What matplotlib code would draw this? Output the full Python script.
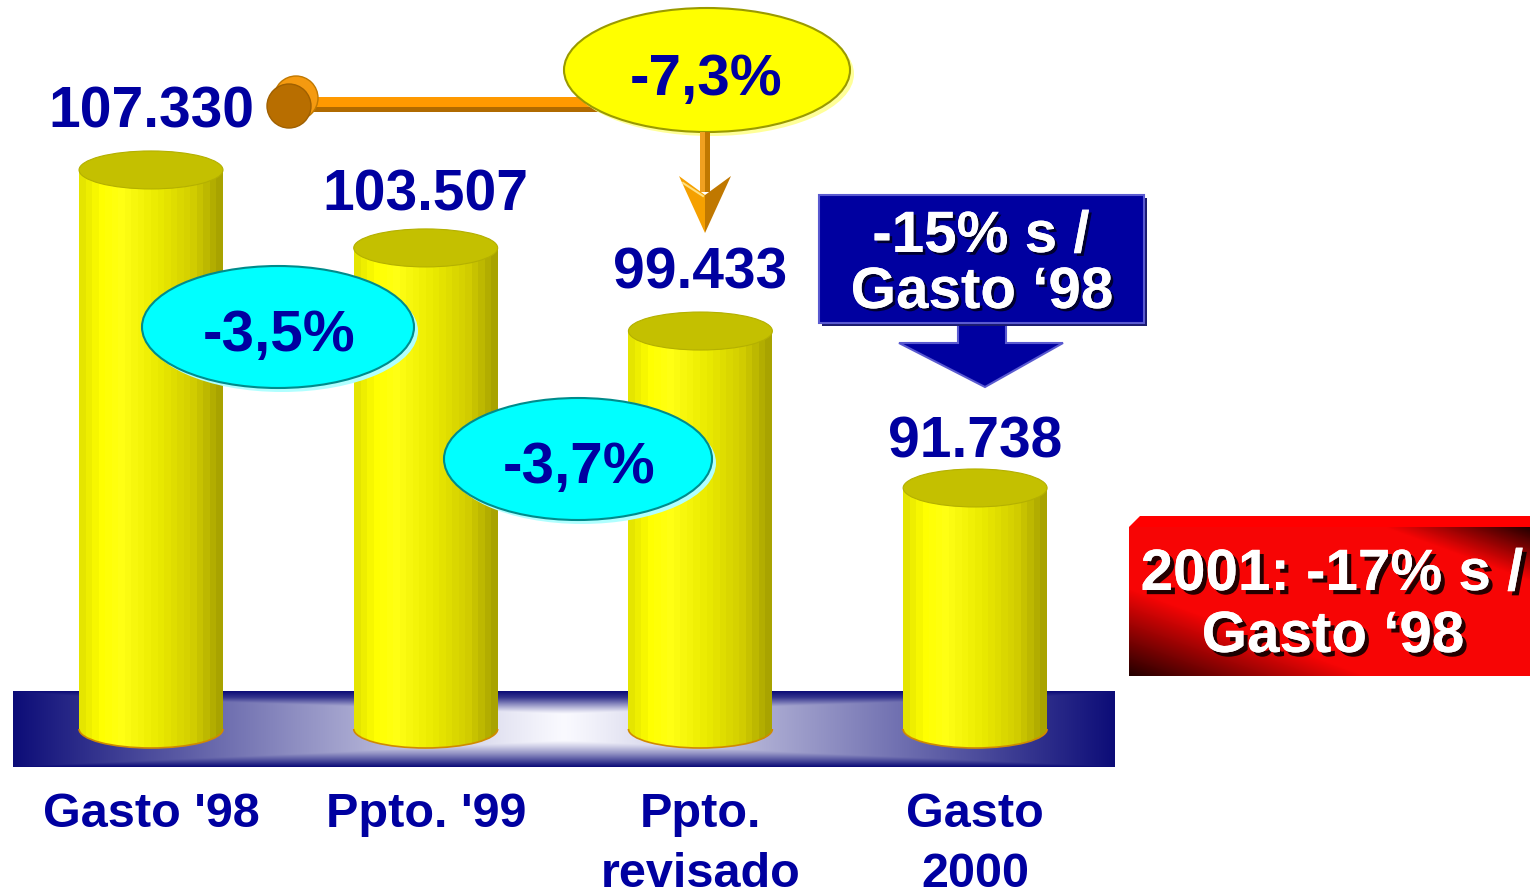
import matplotlib
matplotlib.use('Agg')
import matplotlib.pyplot as plt
import matplotlib.patheffects as pe
from matplotlib.patches import Ellipse, Rectangle, Polygon, Circle, Arc
from matplotlib.transforms import blended_transform_factory
import numpy as np

# data
categories = [["Gasto '98"], ["Ppto. '99"], ["Ppto.", "revisado"], ["Gasto", "2000"]]
values = [107330, 103507, 99433, 91738]
value_labels = ['107.330', '103.507', '99.433', '91.738']
step_labels = ['-3,5%', '-3,7%']
total_label = '-7,3%'
box_lines = ['-15% s /', 'Gasto \u201898']
red_lines = ['2001: -17% s /', 'Gasto \u201898']

plt.rcParams['font.family'] = ['Liberation Sans', 'DejaVu Sans']
NAVY = '#0000a0'
BASE = 79920          # floor of the value axis
W = 0.524             # bar width (category units)
EH = 1863             # ellipse height of cylinder caps (value units)

fig = plt.figure(figsize=(15.3, 8.92), dpi=100)
ax = fig.add_axes([0, 0, 1, 1], zorder=1)
ax.axis('off')
x = np.arange(len(values))


def body_gradient(n=22):
    t = (np.arange(n) + 0.5) / n
    pos = [0, .15, .3, .55, .8, 1]
    cols = np.array([[.88, .88, 0], [1, 1, 0], [1, 1, .08],
                     [.92, .92, 0], [.82, .80, 0], [.64, .62, 0]])
    img = np.stack([np.interp(t, pos, cols[:, k]) for k in range(3)], axis=-1)
    return img[None, :, :]


def platform_gradient(nx=500, ny=80):
    u = np.abs(np.linspace(-1, 1, nx))[None, :]
    w = np.linspace(0, 1, ny)[:, None]
    sy = np.interp(w, [0, 0.08, 0.22, 0.3, 0.65, 0.82, 1], [1, 0.85, 0.3, 0, 0, 0.45, 1])
    s = np.maximum(u, sy) ** 1.1
    light = np.array([0.98, 0.98, 1.0])
    dark = np.array([0.05, 0.05, 0.47])
    return light * (1 - s[..., None]) + dark * s[..., None]


# platform under the cylinders
ax.imshow(platform_gradient(), extent=(x[0] - 0.502, x[-1] + 0.509, BASE - EH, BASE + EH),
          aspect='auto', zorder=1, interpolation='bilinear')

body = body_gradient()
bars = ax.bar(x, np.array(values) - BASE, bottom=BASE, width=W,
              color='none', edgecolor='none', zorder=2)
for xi, b in zip(x, bars):
    top = b.get_y() + b.get_height()
    im = ax.imshow(body, extent=(xi - W / 2, xi + W / 2, BASE, top),
                   aspect='auto', zorder=2, interpolation='nearest')
    im.set_clip_path(b)
    bot = Ellipse((xi, BASE), W, EH, facecolor='none', edgecolor='none', zorder=2)
    ax.add_patch(bot)
    im2 = ax.imshow(body, extent=(xi - W / 2, xi + W / 2, BASE - EH / 2, BASE),
                    aspect='auto', zorder=2, interpolation='nearest')
    im2.set_clip_path(bot)
    ax.add_patch(Arc((xi, BASE), W, EH, theta1=180, theta2=360,
                     color='#d08a00', lw=1.2, zorder=3))
    ax.add_patch(Ellipse((xi, top), W, EH, facecolor='#c4c000',
                         edgecolor='#b4b000', lw=0.8, zorder=3))

# value labels
label_dy = [42, 37, 43, 30]
for xi, v, lab, dy in zip(x, values, value_labels, label_dy):
    ax.annotate(lab, (xi, v), xytext=(0, dy * 0.72), textcoords='offset points',
                ha='center', va='baseline', fontsize=41, fontweight='bold',
                color=NAVY, zorder=5)

# category labels
tr = blended_transform_factory(ax.transData, ax.transAxes)
for xi, lines in zip(x, categories):
    for k, line in enumerate(lines):
        ax.text(xi, 0.0729 - k * 0.0675, line, transform=tr, ha='center', va='baseline',
                fontsize=35, fontweight='bold', color=NAVY, clip_on=False)

ax.set_xlim(-0.5497, 5.020)
ax.set_ylim(71928, 115663)

# overlay in pixel coordinates for the annotations
ov = fig.add_axes([0, 0, 1, 1], zorder=3)
ov.set_xlim(0, 1530)
ov.set_ylim(892, 0)
ov.axis('off')

big = dict(fontsize=42, fontweight='bold', ha='center', va='baseline')

# orange connector with ball
ov.add_patch(Rectangle((300, 97), 310, 10, fc='#ff9900', ec='none'))
ov.add_patch(Rectangle((300, 107), 310, 5, fc='#b06a00', ec='none'))
ov.add_patch(Circle((296, 98), 22, fc='#f59a10', ec='#c07800', lw=1))
ov.add_patch(Circle((289, 106), 22, fc='#b86e00', ec='#a06000', lw=1))

# yellow ellipse -7,3%
ov.add_patch(Ellipse((711, 74), 286, 124, fc='#ffff99', ec='none'))
ov.add_patch(Ellipse((707, 70), 286, 124, fc='#ffff00', ec='#9a9a00', lw=1.5))
ov.text(706, 95, total_label, color=NAVY, **big)

# orange arrow down
ov.add_patch(Rectangle((700, 132), 5, 60, fc='#f0a020', ec='none'))
ov.add_patch(Rectangle((705, 132), 5, 60, fc='#c07800', ec='none'))
ov.add_patch(Polygon([(679, 176), (705, 195), (705, 233)], closed=True, fc='#f5a000', ec='none'))
ov.add_patch(Polygon([(705, 195), (731, 176), (705, 233)], closed=True, fc='#c07800', ec='none'))
ov.plot([683, 703], [183, 196], color='#ffe080', lw=1.5)

# cyan ellipses
for (cx, cy, ew), lab in zip([(278, 327, 272), (578, 459, 268)], step_labels):
    ov.add_patch(Ellipse((cx + 4, cy + 4), ew, 122, fc='#b0ffff', ec='none'))
    ov.add_patch(Ellipse((cx, cy), ew, 122, fc='#00ffff', ec='#008b8b', lw=1.5))
    ov.text(cx + 1, cy + 24, lab, color=NAVY, **big)

# blue box with arrow
ov.add_patch(Polygon([(958, 320), (1006, 320), (1006, 343), (1063, 343), (985, 387),
                      (899, 343), (958, 343)], closed=True, fc='#0000a0', ec='#5a5ad0', lw=1.5))
ov.add_patch(Rectangle((822, 198), 325, 128, fc='#1a1a70', ec='none'))
ov.add_patch(Rectangle((819, 195), 325, 128, fc='#0000a0', ec='#5a5ad0', lw=1.5))
shadow = [pe.withSimplePatchShadow(offset=(2, -2), shadow_rgbFace='black', alpha=0.7), pe.Normal()]
ov.text(981, 252, box_lines[0], color='white', path_effects=shadow, **big)
ov.text(982, 308, box_lines[1], color='white', path_effects=shadow, **big)

# red box
nx, ny = 200, 80
u = np.linspace(0, 1, nx)[None, :]
w = np.linspace(0, 1, ny)[:, None]
d1 = np.clip(1 - (u + (1 - w)) * 1.7, 0, 1)
d2 = np.clip(1 - ((1 - u) + w) * 2.8, 0, 1)
dark = np.maximum(d1, d2)
red = np.stack([0.97 * (1 - 0.85 * dark), 0.02 * (1 - dark), 0.02 * (1 - dark)], axis=-1)
ov.imshow(red, extent=(1129, 1530, 676, 527), aspect='auto', interpolation='bilinear')
ov.add_patch(Polygon([(1129, 527), (1140, 516), (1530, 516), (1530, 527)], closed=True,
                     fc='#ff0000', ec='none'))
shadow2 = [pe.withSimplePatchShadow(offset=(3, -3), shadow_rgbFace='black', alpha=0.85), pe.Normal()]
ov.text(1332, 590, red_lines[0], color='white', path_effects=shadow2, **big)
ov.text(1333, 652, red_lines[1], color='white', path_effects=shadow2, **big)
ov.set_xlim(0, 1530)
ov.set_ylim(892, 0)

fig.savefig('out.png', dpi=100)
